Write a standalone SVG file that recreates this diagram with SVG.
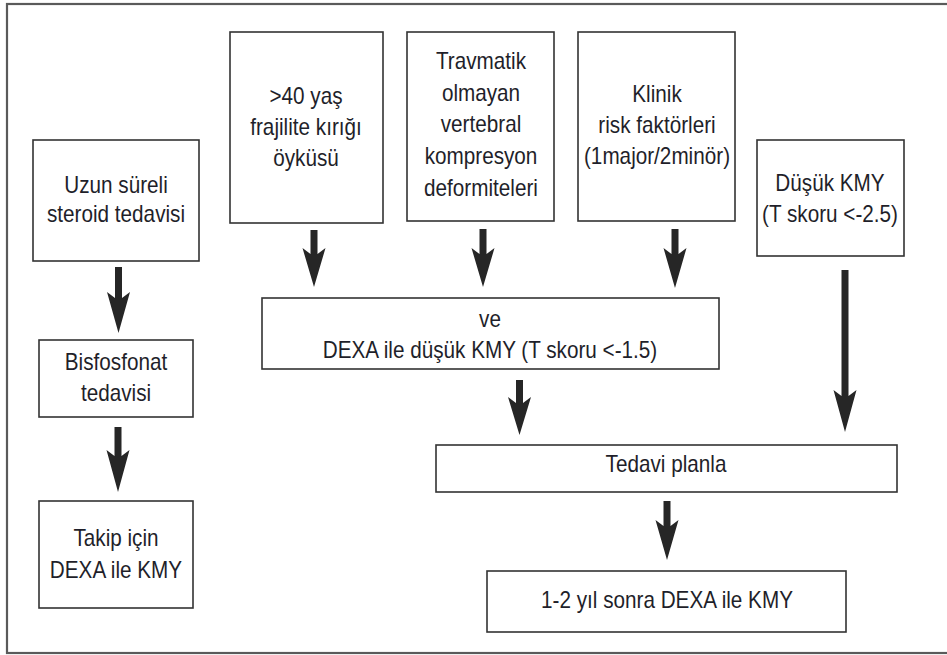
<svg xmlns="http://www.w3.org/2000/svg" width="947" height="655" viewBox="0 0 947 655">
<style>
.frame{fill:none;stroke:#5a5a5a;stroke-width:2.2}
.box{fill:#fff;stroke:#333;stroke-width:1.6}
.t{font-family:"Liberation Sans",Arial,sans-serif;font-size:23px;fill:#1f1f2a;text-anchor:middle}
.arr{fill:#262626}
</style>
<rect width="947" height="655" fill="#fff"/>
<rect class="frame" x="7" y="4" width="960" height="649"/>

<g id="n-uzun">
<rect class="box" x="33" y="140" width="166" height="121"/>
<text class="t" transform="translate(116,193) scale(0.9,1)">Uzun süreli</text>
<text class="t" transform="translate(116,222) scale(0.9,1)">steroid tedavisi</text>
</g>
<g id="n-40yas">
<rect class="box" x="230" y="32" width="153" height="191"/>
<text class="t" transform="translate(306,104) scale(0.9,1)">&gt;40 yaş</text>
<text class="t" transform="translate(306,135) scale(0.9,1)">frajilite kırığı</text>
<text class="t" transform="translate(306,166) scale(0.9,1)">öyküsü</text>
</g>
<g id="n-travmatik">
<rect class="box" x="407" y="32" width="147" height="189"/>
<text class="t" transform="translate(481,69) scale(0.9,1)">Travmatik</text>
<text class="t" transform="translate(481,101) scale(0.9,1)">olmayan</text>
<text class="t" transform="translate(481,132) scale(0.9,1)">vertebral</text>
<text class="t" transform="translate(481,164) scale(0.9,1)">kompresyon</text>
<text class="t" transform="translate(481,196) scale(0.9,1)">deformiteleri</text>
</g>
<g id="n-klinik">
<rect class="box" x="578" y="32" width="157" height="189"/>
<text class="t" transform="translate(657,102) scale(0.9,1)">Klinik</text>
<text class="t" transform="translate(657,133) scale(0.9,1)">risk faktörleri</text>
<text class="t" transform="translate(657,164) scale(0.9,1)">(1major/2minör)</text>
</g>
<g id="n-dusuk">
<rect class="box" x="757" y="140" width="147" height="116"/>
<text class="t" transform="translate(830,191) scale(0.9,1)">Düşük KMY</text>
<text class="t" transform="translate(830,222) scale(0.9,1)">(T skoru &lt;-2.5)</text>
</g>
<g id="n-dexa">
<rect class="box" x="262" y="298" width="457" height="71"/>
<text class="t" transform="translate(490,327) scale(0.9,1)">ve</text>
<text class="t" transform="translate(490,358) scale(0.9,1)">DEXA ile düşük KMY (T skoru &lt;-1.5)</text>
</g>
<g id="n-bisfosfonat">
<rect class="box" x="39" y="340" width="154" height="77"/>
<text class="t" transform="translate(116,370) scale(0.9,1)">Bisfosfonat</text>
<text class="t" transform="translate(116,401) scale(0.9,1)">tedavisi</text>
</g>
<g id="n-takip">
<rect class="box" x="39" y="501" width="154" height="107"/>
<text class="t" transform="translate(116,546) scale(0.9,1)">Takip için</text>
<text class="t" transform="translate(116,578) scale(0.9,1)">DEXA ile KMY</text>
</g>
<g id="n-tedavi">
<rect class="box" x="436" y="445" width="461" height="47"/>
<text class="t" transform="translate(666,472) scale(0.9,1)">Tedavi planla</text>
</g>
<g id="n-sonra">
<rect class="box" x="487" y="571" width="359" height="61"/>
<text class="t" transform="translate(667,608) scale(0.9,1)">1-2 yıl sonra DEXA ile KMY</text>
</g>

<g id="connectors" class="arr">
<path d="M115,267 H122 V298 L130,292 L118.5,333 L107,292 L115,298 Z"/>
<path d="M310.5,230 H317.5 V254 L325.5,248 L314,287 L302.5,248 L310.5,254 Z"/>
<path d="M479.5,229 H486.5 V254 L494.5,248 L483,287 L471.5,248 L479.5,254 Z"/>
<path d="M671.5,229 H678.5 V254 L686.5,248 L675,288 L663.5,248 L671.5,254 Z"/>
<path d="M841.5,270 H848.5 V396 L856.5,390 L845,432 L833.5,390 L841.5,396 Z"/>
<path d="M516,380 H523 V403 L531,397 L519.5,435 L508,397 L516,403 Z"/>
<path d="M663.5,501 H670.5 V526 L678.5,520 L667,560 L655.5,520 L663.5,526 Z"/>
<path d="M114.5,427 H121.5 V456 L129.5,450 L118,492 L106.5,450 L114.5,456 Z"/>
</g>
</svg>
